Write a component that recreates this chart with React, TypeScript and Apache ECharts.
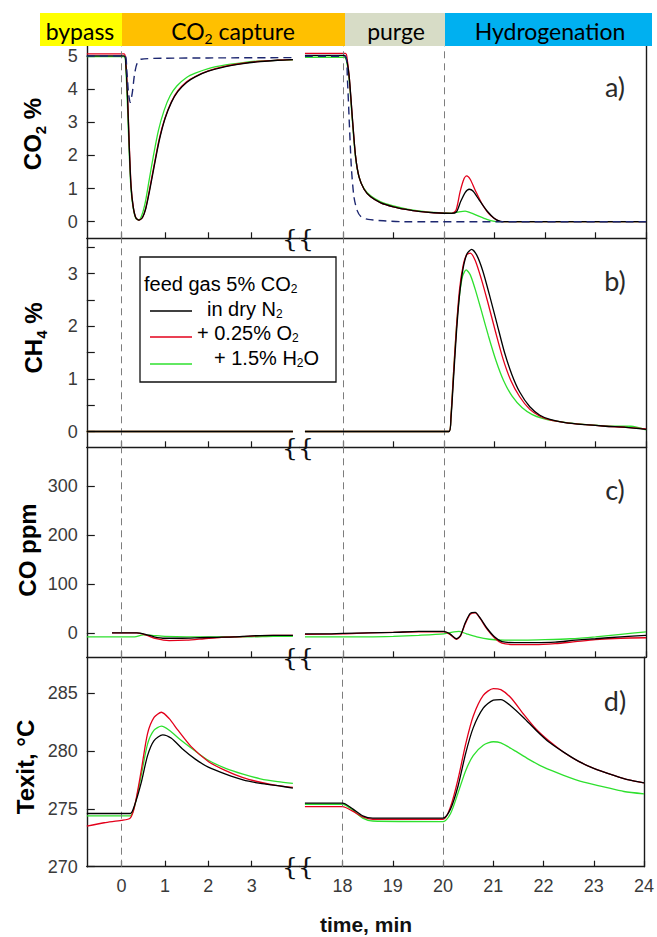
import React, { useEffect, useRef } from "react";
import * as echarts from "echarts";

// ---------- axis ticks ----------
const xTicksLeft = [0, 1, 2, 3];
const xTicksRight = [18, 19, 20, 21, 22, 23, 24];
const phaseLinesLeft = [0];
const phaseLinesRight = [18, 20];
const co2Ticks = [0, 1, 2, 3, 4, 5];
const ch4Ticks = [0, 0.5, 1, 1.5, 2, 2.5, 3, 3.5];
const ch4Labels = [0, 1, 2, 3];
const coTicks = [0, 100, 200, 300];
const tempTicks = [270, 275, 280, 285];

// ---------- phases ----------
const phaseNames = ["bypass", "CO2 capture", "purge", "Hydrogenation"];

// ---------- a) CO2 % ----------
const co2BlackL = [[-0.8, 5.0], [0.06, 5.0], [0.1, 4.75], [0.14, 3.7], [0.18, 2.2], [0.22, 1.05], [0.27, 0.45], [0.33, 0.12], [0.4, 0.05], [0.48, 0.12], [0.56, 0.4], [0.65, 0.95], [0.75, 1.65], [0.87, 2.45], [1.0, 3.1], [1.15, 3.6], [1.3, 3.93], [1.5, 4.2], [1.7, 4.37], [2.0, 4.54], [2.4, 4.68], [2.8, 4.77], [3.2, 4.83], [3.6, 4.87], [3.95, 4.89]];
const co2RedL = [[-0.8, 5.06], [0.06, 5.06], [0.1, 4.8], [0.14, 3.8], [0.18, 2.3], [0.22, 1.1], [0.27, 0.45], [0.33, 0.12], [0.4, 0.05], [0.48, 0.12], [0.56, 0.42], [0.65, 1.0], [0.75, 1.7], [0.87, 2.5], [1.0, 3.12], [1.15, 3.62], [1.3, 3.95], [1.5, 4.22], [1.7, 4.38], [2.0, 4.55], [2.4, 4.69], [2.8, 4.78], [3.2, 4.84], [3.6, 4.87], [3.95, 4.89]];
const co2GreenL = [[-0.8, 4.98], [0.06, 4.98], [0.1, 4.6], [0.14, 3.4], [0.18, 2.0], [0.22, 0.95], [0.27, 0.4], [0.33, 0.1], [0.4, 0.05], [0.47, 0.2], [0.55, 0.6], [0.63, 1.2], [0.73, 1.95], [0.85, 2.75], [0.98, 3.35], [1.12, 3.8], [1.28, 4.1], [1.5, 4.35], [1.7, 4.48], [2.0, 4.62], [2.4, 4.73], [2.8, 4.8], [3.2, 4.85], [3.6, 4.87], [3.95, 4.88]];
const co2RefL = [[-0.8, 5.0], [0.08, 5.0], [0.12, 4.6], [0.16, 3.9], [0.2, 3.6], [0.25, 3.9], [0.3, 4.45], [0.36, 4.78], [0.45, 4.9], [1.0, 4.93], [2.0, 4.94], [3.95, 4.95]];
const co2BlackR = [[17.25, 5.02], [18.03, 5.02], [18.08, 4.85], [18.13, 4.3], [18.19, 3.1], [18.25, 2.0], [18.32, 1.35], [18.42, 0.98], [18.55, 0.75], [18.75, 0.57], [19.0, 0.45], [19.25, 0.37], [19.5, 0.31], [19.8, 0.27], [20.15, 0.25], [20.25, 0.3], [20.33, 0.6], [20.42, 0.88], [20.5, 0.98], [20.58, 0.92], [20.7, 0.65], [20.85, 0.33], [21.0, 0.1], [21.12, 0.01], [21.2, 0], [24, 0]];
const co2RedR = [[17.25, 5.08], [18.05, 5.08], [18.09, 4.85], [18.13, 4.3], [18.19, 3.1], [18.25, 2.0], [18.32, 1.35], [18.42, 0.98], [18.55, 0.75], [18.75, 0.57], [19.0, 0.45], [19.25, 0.37], [19.5, 0.31], [19.8, 0.27], [20.15, 0.25], [20.24, 0.35], [20.32, 0.9], [20.4, 1.3], [20.45, 1.38], [20.52, 1.28], [20.62, 0.95], [20.75, 0.55], [20.9, 0.22], [21.05, 0.05], [21.15, 0], [24, 0]];
const co2GreenR = [[17.25, 4.96], [18.03, 4.96], [18.08, 4.8], [18.13, 4.2], [18.19, 3.0], [18.25, 1.95], [18.32, 1.35], [18.42, 1.0], [18.55, 0.78], [18.75, 0.6], [19.0, 0.48], [19.25, 0.39], [19.5, 0.33], [19.8, 0.28], [20.15, 0.26], [20.3, 0.3], [20.42, 0.32], [20.55, 0.26], [20.7, 0.16], [20.85, 0.07], [21.0, 0.01], [21.1, 0], [24, 0]];
const co2RefR = [[17.25, 4.99], [18.05, 4.99], [18.09, 4.3], [18.13, 2.9], [18.17, 1.6], [18.22, 0.75], [18.28, 0.35], [18.36, 0.15], [18.5, 0.07], [18.8, 0.03], [19.2, 0], [24, 0]];

// ---------- b) CH4 % ----------
const ch4BlackL = [[-0.8, 0], [3.95, 0]];
const ch4RedL = [[-0.8, 0], [3.95, 0]];
const ch4GreenL = [[-0.8, 0], [3.95, 0]];
const ch4BlackR = [[17.25, 0], [20.1, 0], [20.14, 0.25], [20.19, 1.0], [20.25, 1.9], [20.31, 2.6], [20.38, 3.1], [20.46, 3.38], [20.55, 3.46], [20.65, 3.35], [20.77, 3.05], [20.9, 2.6], [21.05, 2.05], [21.2, 1.5], [21.35, 1.07], [21.5, 0.75], [21.7, 0.47], [21.9, 0.31], [22.1, 0.23], [22.4, 0.17], [22.8, 0.13], [23.2, 0.1], [23.6, 0.08], [24, 0.04]];
const ch4RedR = [[17.25, 0], [20.1, 0], [20.14, 0.3], [20.19, 1.1], [20.25, 2.0], [20.31, 2.7], [20.38, 3.15], [20.45, 3.36], [20.52, 3.39], [20.62, 3.25], [20.74, 2.9], [20.87, 2.45], [21.02, 1.9], [21.17, 1.38], [21.32, 0.98], [21.5, 0.66], [21.7, 0.42], [21.9, 0.29], [22.1, 0.22], [22.4, 0.17], [22.8, 0.13], [23.2, 0.1], [23.6, 0.08], [24, 0.05]];
const ch4GreenR = [[17.25, 0], [20.1, 0], [20.14, 0.3], [20.19, 1.1], [20.25, 2.0], [20.31, 2.6], [20.37, 2.95], [20.44, 3.07], [20.52, 2.98], [20.62, 2.7], [20.74, 2.3], [20.88, 1.82], [21.03, 1.35], [21.18, 0.97], [21.35, 0.67], [21.55, 0.45], [21.75, 0.32], [21.95, 0.25], [22.2, 0.2], [22.6, 0.15], [23.0, 0.12], [23.4, 0.1], [23.7, 0.1], [24, 0.03]];

// ---------- c) CO ppm ----------
const coBlackL = [[-0.22, 0], [0.35, 0], [0.55, -3], [0.75, -8], [1.0, -11], [1.4, -11], [1.8, -10], [2.2, -9], [2.6, -8], [3.0, -6], [3.5, -5], [3.95, -5]];
const coRedL = [[-0.22, 0], [0.35, 0], [0.55, -4], [0.8, -12], [1.1, -16], [1.5, -15], [1.9, -12], [2.3, -9], [2.7, -8], [3.1, -6], [3.5, -5], [3.95, -5]];
const coGreenL = [[-0.8, -8], [0.3, -8], [0.5, -4], [0.7, -5], [1.0, -7], [1.5, -8], [2.0, -8], [2.5, -8], [3.0, -8], [3.5, -7], [3.95, -7]];
const coBlackR = [[17.25, -2], [17.6, -2], [18.0, -1], [18.5, 0], [19.0, 1], [19.5, 3], [20.0, 3], [20.12, -2], [20.25, -12], [20.33, -5], [20.42, 20], [20.52, 40], [20.62, 42], [20.72, 30], [20.85, 10], [21.0, -8], [21.15, -18], [21.4, -20], [21.8, -20], [22.2, -19], [22.6, -15], [23.0, -12], [23.5, -8], [24, -5]];
const coRedR = [[17.25, -3], [18.0, -2], [18.5, 0], [19.0, 1], [19.5, 2], [20.0, 2], [20.12, -3], [20.25, -13], [20.33, -6], [20.42, 18], [20.52, 38], [20.62, 41], [20.72, 29], [20.85, 8], [21.0, -10], [21.15, -21], [21.4, -24], [21.8, -24], [22.2, -22], [22.6, -18], [23.0, -14], [23.5, -11], [24, -10]];
const coGreenR = [[17.25, -8], [18.0, -8], [18.5, -8], [19.0, -7], [19.5, -5], [20.0, -2], [20.2, 2], [20.3, 3], [20.45, -2], [20.65, -8], [20.9, -13], [21.2, -15], [21.6, -15], [22.0, -14], [22.5, -12], [23.0, -8], [23.5, -3], [24, 2]];

// ---------- d) Texit °C ----------
const tBlackL = [[-0.8, 274.6], [0.2, 274.6], [0.3, 275.3], [0.45, 277.2], [0.6, 279.6], [0.75, 280.9], [0.95, 281.4], [1.15, 281.1], [1.4, 280.2], [1.7, 279.3], [2.0, 278.6], [2.4, 278.0], [2.8, 277.5], [3.2, 277.2], [3.6, 277.0], [3.95, 276.8]];
const tRedL = [[-0.8, 273.5], [-0.4, 273.8], [0.0, 274.0], [0.2, 274.2], [0.3, 275.2], [0.45, 278.2], [0.6, 281.5], [0.75, 282.9], [0.92, 283.35], [1.1, 282.8], [1.3, 281.8], [1.6, 280.4], [2.0, 279.1], [2.4, 278.3], [2.8, 277.7], [3.2, 277.3], [3.6, 277.0], [3.95, 276.85]];
const tGreenL = [[-0.8, 274.4], [0.2, 274.4], [0.3, 275.2], [0.45, 277.8], [0.6, 280.6], [0.75, 281.8], [0.92, 282.15], [1.1, 281.8], [1.35, 281.0], [1.7, 280.0], [2.0, 279.2], [2.4, 278.5], [2.8, 278.0], [3.2, 277.6], [3.6, 277.35], [3.95, 277.2]];
const tBlackR = [[17.25, 275.5], [18.0, 275.5], [18.2, 275.0], [18.4, 274.4], [18.6, 274.2], [19.0, 274.2], [19.5, 274.2], [20.0, 274.2], [20.15, 275.0], [20.3, 277.0], [20.45, 279.8], [20.6, 282.0], [20.8, 283.7], [21.0, 284.4], [21.15, 284.45], [21.35, 283.9], [21.6, 282.9], [21.85, 281.8], [22.1, 280.8], [22.4, 279.9], [22.7, 279.1], [23.0, 278.5], [23.4, 277.9], [23.7, 277.5], [24, 277.25]];
const tRedR = [[17.25, 275.2], [18.0, 275.2], [18.2, 274.8], [18.4, 274.3], [18.6, 274.1], [20.0, 274.1], [20.15, 275.2], [20.3, 277.6], [20.45, 280.6], [20.6, 283.0], [20.8, 284.8], [21.0, 285.4], [21.15, 285.3], [21.35, 284.6], [21.6, 283.2], [21.85, 281.9], [22.1, 280.9], [22.4, 279.9], [22.7, 279.1], [23.0, 278.5], [23.4, 277.9], [23.7, 277.5], [24, 277.25]];
const tGreenR = [[17.25, 275.4], [18.0, 275.4], [18.2, 274.9], [18.4, 274.2], [18.6, 273.95], [20.0, 273.9], [20.15, 274.6], [20.3, 276.4], [20.45, 278.3], [20.6, 279.6], [20.8, 280.5], [21.0, 280.8], [21.15, 280.7], [21.4, 280.1], [21.7, 279.3], [22.0, 278.6], [22.4, 277.9], [22.8, 277.3], [23.2, 276.9], [23.6, 276.5], [24, 276.3]];

// ---------- styles / layout ----------
const SANS = "'Liberation Sans', Arial, sans-serif";
const HUMAN = "Lato, 'Open Sans', sans-serif";
const AX = "#1a1a1a";
const LBL = "#3a3a3a";
const C_BLACK = "#000000";
const C_RED = "#e3001b";
const C_GREEN = "#2ee02e";
const C_REF = "#1d2770";

const XL = { x: 86.8, w: 212.6, min: -0.8, max: 4.1 };
const XR = { x: 299.4, w: 346.6, min: 17.14, max: 24 };
const ROWS = [
  { top: 46, h: 192.3 },
  { top: 238.3, h: 209 },
  { top: 447.3, h: 210 },
  { top: 657.3, h: 209.4 },
];

function rich(size: number, bold: boolean, color: string, family: string, lh = 1.3, subLh = 0.62) {
  const w = bold ? "bold" : "normal";
  return {
    a: { fontSize: size, fontWeight: w, fontFamily: family, color, lineHeight: Math.round(size * lh) },
    s: { fontSize: Math.round(size * 0.62), fontWeight: w, fontFamily: family, color, lineHeight: Math.max(1, Math.round(size * subLh)), verticalAlign: "bottom" },
  };
}

function buildOption() {
  const panels = [
    { min: -0.5, max: 5.3, ticks: co2Ticks, labels: co2Ticks,
      L: [[co2GreenL, C_GREEN], [co2RedL, C_RED], [co2BlackL, C_BLACK]], R: [[co2GreenR, C_GREEN], [co2RedR, C_RED], [co2BlackR, C_BLACK]],
      refL: co2RefL, refR: co2RefR },
    { min: -0.3, max: 3.67, ticks: ch4Ticks, labels: ch4Labels,
      L: [[ch4GreenL, C_GREEN], [ch4RedL, C_RED], [ch4BlackL, C_BLACK]], R: [[ch4GreenR, C_GREEN], [ch4RedR, C_RED], [ch4BlackR, C_BLACK]] },
    { min: -50, max: 380, ticks: coTicks, labels: coTicks,
      L: [[coGreenL, C_GREEN], [coRedL, C_RED], [coBlackL, C_BLACK]], R: [[coGreenR, C_GREEN], [coRedR, C_RED], [coBlackR, C_BLACK]] },
    { min: 270, max: 288.1, ticks: tempTicks, labels: tempTicks,
      L: [[tGreenL, C_GREEN], [tRedL, C_RED], [tBlackL, C_BLACK]], R: [[tGreenR, C_GREEN], [tRedR, C_RED], [tBlackR, C_BLACK]] },
  ];

  const grid: any[] = [];
  const xAxis: any[] = [];
  const yAxis: any[] = [];
  const series: any[] = [];

  panels.forEach((p: any, pi) => {
    [0, 1].forEach((side) => {
      const gi = pi * 2 + side;
      const X = side === 0 ? XL : XR;
      grid.push({ left: X.x, top: ROWS[pi].top, width: X.w, height: ROWS[pi].h });
      xAxis.push({
        type: "value", gridIndex: gi, min: X.min, max: X.max,
        axisLine: { show: true, onZero: false, lineStyle: { color: AX, width: 1.4 } },
        axisTick: { show: true, inside: true, length: 6, customValues: side === 0 ? xTicksLeft : xTicksRight, lineStyle: { color: AX, width: 1.2 } },
        axisLabel: { show: pi === 3, customValues: side === 0 ? xTicksLeft : xTicksRight, margin: 10, fontSize: 18, color: LBL, fontFamily: SANS },
        splitLine: { show: false },
      });
      if (side === 0) {
        yAxis.push({
          type: "value", gridIndex: gi, min: p.min, max: p.max, position: "left",
          axisLine: { show: true, onZero: false, lineStyle: { color: AX, width: 1.4 } },
          axisTick: { show: true, inside: true, length: 8, customValues: p.ticks, lineStyle: { color: AX, width: 1.2 } },
          axisLabel: { customValues: p.labels, margin: 9, fontSize: 18, color: LBL, fontFamily: SANS },
          splitLine: { show: false },
        });
      } else {
        yAxis.push({
          type: "value", gridIndex: gi, min: p.min, max: p.max, position: "right",
          axisLine: { show: true, onZero: false, lineStyle: { color: AX, width: 1.4 } },
          axisTick: { show: false }, axisLabel: { show: false }, splitLine: { show: false },
        });
      }
      const lines = side === 0 ? p.L : p.R;
      lines.forEach(([data, color]: any, li: number) => {
        const s: any = {
          type: "line", xAxisIndex: gi, yAxisIndex: gi, data, showSymbol: false, symbol: "none",
          smooth: 0.25, lineStyle: { color, width: 1.3 }, z: 3 + li,
        };
        if (li === 0) {
          s.markLine = {
            silent: true, symbol: ["none", "none"], label: { show: false },
            lineStyle: { color: "#7d7d7d", type: [7, 5], width: 1 },
            data: (side === 0 ? phaseLinesLeft : phaseLinesRight).map((v) => ({ xAxis: v })),
          };
        }
        series.push(s);
      });
      const ref = side === 0 ? p.refL : p.refR;
      if (ref) {
        series.push({
          type: "line", xAxisIndex: gi, yAxisIndex: gi, data: ref, showSymbol: false, symbol: "none",
          smooth: 0.25, lineStyle: { color: C_REF, width: 1.4, type: [8, 5] }, z: 6,
        });
      }
    });
  });

  const bandY = 13, bandH = 33;
  const bands = [
    { x: 40, w: 82, color: "#ffff00", cx: 80, text: "{a|bypass}" },
    { x: 122, w: 223, color: "#ffc000", cx: 233, text: "{a|CO}{s|2}{a| capture}" },
    { x: 345, w: 100, color: "#d7dcc6", cx: 396, text: "{a|purge}" },
    { x: 445, w: 207, color: "#00b0f0", cx: 550, text: "{a|Hydrogenation}" },
  ];
  const graphic: any[] = [];
  bands.forEach((b, i) => {
    graphic.push({ type: "rect", shape: { x: b.x, y: bandY, width: b.w, height: bandH }, style: { fill: b.color }, z: 1 });
    graphic.push({
      type: "text", x: b.cx, y: bandY + bandH / 2 + 1, z: 2, name: phaseNames[i],
      style: { text: b.text, rich: rich(23, false, "#1f3864", HUMAN), align: "center", verticalAlign: "middle" },
    });
  });

  // axis titles
  const titles = [
    { x: 32, y: 134, text: "{a|CO}{s|2}{a| %}" },
    { x: 33, y: 338, text: "{a|CH}{s|4}{a| %}" },
    { x: 27, y: 550, text: "{a|CO ppm}" },
    { x: 25, y: 767, text: "{a|Texit, °C}" },
  ];
  titles.forEach((t) => {
    graphic.push({
      type: "text", x: t.x, y: t.y, rotation: Math.PI / 2, z: 10,
      style: { text: t.text, rich: rich(24, true, "#111", SANS), align: "center", verticalAlign: "middle" },
    });
  });

  // panel letters
  [["a)", 86], ["b)", 280], ["c)", 489], ["d)", 700]].forEach(([t, y]) => {
    graphic.push({ type: "text", x: 615, y: y as number, z: 10, style: { text: t as string, font: `27px ${HUMAN}`, fill: "#2a2a2a", align: "center", verticalAlign: "middle" } });
  });

  // axis breaks
  [238.3, 447.3, 657.3, 866.7].forEach((y) => {
    graphic.push({ type: "text", x: 298, y, z: 20, style: { text: "{{", font: `25px 'DejaVu Serif', serif`, fill: "#111", align: "center", verticalAlign: "middle" } });
  });

  // legend
  const legX = 140, legY = 257;
  graphic.push({ type: "rect", z: 15, shape: { x: legX, y: legY, width: 196, height: 125 }, style: { fill: "#fff", stroke: "#111", lineWidth: 1.3 } });
  const legR = rich(20, false, "#111", SANS, 1.1, 0.2);
  graphic.push({ type: "text", z: 16, x: 144, y: 284, style: { text: "{a|feed gas 5% CO}{s|2}", rich: legR, align: "left", verticalAlign: "middle" } });
  const legRows = [
    { c: C_BLACK, ly: 311, tx: 207, ty: 309, text: "{a|in dry N}{s|2}" },
    { c: C_RED, ly: 337, tx: 197, ty: 333, text: "{a|+ 0.25% O}{s|2}" },
    { c: C_GREEN, ly: 364, tx: 214, ty: 358, text: "{a|+ 1.5% H}{s|2}{a|O}" },
  ];
  legRows.forEach((r) => {
    graphic.push({ type: "line", z: 16, shape: { x1: 150, y1: r.ly, x2: 192, y2: r.ly }, style: { stroke: r.c, lineWidth: 1.5 } });
    graphic.push({ type: "text", z: 16, x: r.tx, y: r.ty, style: { text: r.text, rich: legR, align: "left", verticalAlign: "middle" } });
  });

  // x title
  graphic.push({ type: "text", x: 366, y: 924, z: 10, style: { text: "time, min", font: `bold 21px ${SANS}`, fill: "#111", align: "center", verticalAlign: "middle" } });

  return { animation: false, backgroundColor: "#ffffff", grid, xAxis, yAxis, series, graphic };
}

export default function App() {
  const ref = useRef<HTMLDivElement>(null);
  useEffect(() => {
    if (!ref.current) return;
    const chart = echarts.init(ref.current, null, { renderer: "svg" });
    chart.setOption(buildOption() as any);
    return () => chart.dispose();
  }, []);
  return <div ref={ref} style={{ position: "absolute", left: 0, top: 0, width: 657, height: 937 }} />;
}
